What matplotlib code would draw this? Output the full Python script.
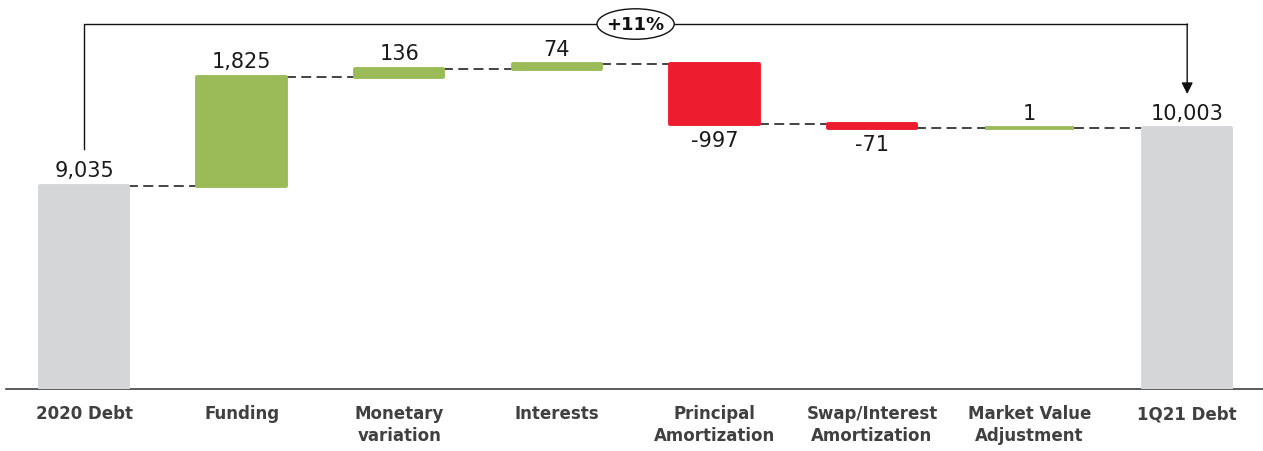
import matplotlib.pyplot as plt
from matplotlib.patches import Ellipse

categories = ['2020 Debt', 'Funding', 'Monetary\nvariation', 'Interests',
              'Principal\nAmortization', 'Swap/Interest\nAmortization',
              'Market Value\nAdjustment', '1Q21 Debt']
start_value = 9035
changes = [1825, 136, 74, -997, -71, 1]
end_value = 10003
growth_label = '+11%'

gray = '#d5d6d8'
green = '#9bbb59'
red = '#ed1c2e'

fig = plt.figure(figsize=(12.63, 4.52), dpi=100)
ax = fig.add_axes([6 / 1263, 62 / 452, 1 - 6 / 1263, 390 / 452])

n = len(categories)
xs = list(range(n))
width = 0.56

# build bottoms / heights
bottoms, heights, colors, levels = [], [], [], []
bottoms.append(0)
heights.append(start_value)
colors.append(gray)
level = start_value
levels.append(level)
for c in changes:
    new = level + c
    bottoms.append(min(level, new))
    heights.append(abs(c))
    colors.append(green if c >= 0 else red)
    level = new
    levels.append(level)
bottoms.append(0)
heights.append(end_value)
colors.append(gray)
levels.append(end_value)

ax.bar(xs, heights, bottom=bottoms, width=width, color=colors,
       edgecolor=colors, linewidth=2.8, joinstyle='round', zorder=3)

# dashed connectors
for i in range(n - 1):
    ax.plot([xs[i] + width / 2, xs[i + 1] - width / 2], [levels[i], levels[i]],
            color='#111111', lw=1.1, dashes=(6.5, 3.5), zorder=2)

# value labels
values = [start_value] + changes + [end_value]
for i, v in enumerate(values):
    top = bottoms[i] + heights[i]
    txt = f'{v:,}'
    if v >= 0:
        ax.annotate(txt, (xs[i], top), xytext=(0, 4), textcoords='offset points',
                    ha='center', va='bottom', fontsize=15, color='#1a1a1a')
    else:
        ax.annotate(txt, (xs[i], bottoms[i]), xytext=(0, -4), textcoords='offset points',
                    ha='center', va='top', fontsize=15, color='#1a1a1a')

# growth bracket
y_hi = 11747
ax.plot([xs[0], xs[0], xs[-1]], [9654, y_hi, y_hi], color='#111111', lw=1, zorder=2)
ax.annotate('', xy=(xs[-1], 10575), xytext=(xs[-1], y_hi),
            arrowprops=dict(arrowstyle='-|>', color='#111111', lw=1,
                            mutation_scale=17, shrinkA=0, shrinkB=0))
mid = (xs[0] + xs[-1]) / 2
ax.add_patch(Ellipse((mid, y_hi), 0.49, 510, facecolor='white',
                     edgecolor='#111111', lw=1, zorder=4))
ax.text(mid, y_hi, growth_label, ha='center', va='center', fontsize=13,
        fontweight='bold', color='#111111', zorder=5)

ax.set_xlim(-0.533 + 6 / 157.6, 7.481)
ax.set_ylim(5636, 12166)
ax.set_xticks(xs)
ax.set_xticklabels(categories, fontsize=12, fontweight='bold', color='#404040',
                   linespacing=1.25)
ax.tick_params(axis='x', length=0, pad=11)
ax.set_yticks([])
for s in ['top', 'left', 'right']:
    ax.spines[s].set_visible(False)
ax.spines['bottom'].set_color('#404040')
ax.spines['bottom'].set_linewidth(1.2)

fig.savefig('out.png', dpi=100)
